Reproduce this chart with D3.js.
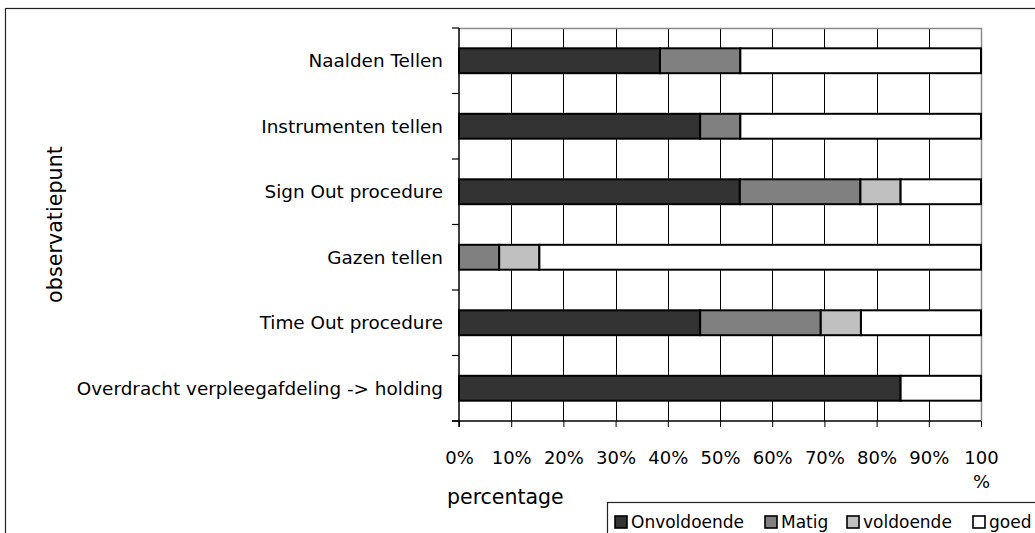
<!DOCTYPE html>
<html>
<head>
<meta charset="utf-8">
<script src="https://cdn.jsdelivr.net/npm/d3@7"></script>
<style>
  body { margin: 0; background: #fff; }
  svg { display: block; font-family: "DejaVu Sans", Verdana, sans-serif; }
</style>
</head>
<body>
<div id="chart"></div>
<script>
// categories, top to bottom as in the chart
var categories = [
    "Naalden Tellen",
    "Instrumenten tellen",
    "Sign Out procedure",
    "Gazen tellen",
    "Time Out procedure",
    "Overdracht verpleegafdeling -> holding"
];
var seriesNames = ["Onvoldoende", "Matig", "voldoende", "goed"];
// percentages per category
var onvoldoende = [38.5, 46.2, 53.8, 0, 46.2, 84.6];
var matig       = [15.4, 7.7, 23.1, 7.7, 23.1, 0];
var voldoende   = [0, 0, 7.7, 7.7, 7.7, 0];
var goed        = [46.2, 46.2, 15.4, 84.6, 23.1, 15.4];
var xTicks = [0, 10, 20, 30, 40, 50, 60, 70, 80, 90, 100];
var colors = ["#333333", "#808080", "#c0c0c0", "#ffffff"];

function init() {
    var w = 1035;
    var h = 533;
    var margin = {top: 28, right: 54, bottom: 112, left: 459};

    var svg = d3.select("#chart")
        .append("svg")
        .attr("width", w)
        .attr("height", h);

    // outer chart border
    svg.append("rect")
        .attr("x", 5.5).attr("y", 8.5)
        .attr("width", w + 20).attr("height", h + 20)
        .attr("fill", "white")
        .attr("stroke", "#222").attr("stroke-width", 1.2);

    var rows = categories.map(function(c, i) {
        return {cat: c, Onvoldoende: onvoldoende[i], Matig: matig[i], voldoende: voldoende[i], goed: goed[i]};
    });
    var stacked = d3.stack().keys(seriesNames)(rows);

    var xScale = d3.scaleLinear()
        .domain([0, 100])
        .range([margin.left, w - margin.right])
        .clamp(true);

    var yScale = d3.scaleBand()
        .domain(categories)
        .range([margin.top, h - margin.bottom])
        .paddingInner(0.62)
        .paddingOuter(0.31);

    var x0 = xScale(0), x1 = xScale(100);
    var yTop = margin.top, yBot = h - margin.bottom;

    // vertical gridlines
    svg.append("g")
        .selectAll("line")
        .data(xTicks.slice(1, -1))
        .enter()
        .append("line")
        .attr("x1", d => Math.round(xScale(d)) + 0.5)
        .attr("x2", d => Math.round(xScale(d)) + 0.5)
        .attr("y1", yTop).attr("y2", yBot)
        .attr("stroke", "#000").attr("stroke-width", 1);

    // plot area border (top and right, grey)
    svg.append("path")
        .attr("d", "M" + x0 + "," + (yTop + 0.5) + "H" + (Math.round(x1) + 0.5) + "V" + yBot)
        .attr("fill", "none")
        .attr("stroke", "#8a8a8a").attr("stroke-width", 1.5);

    // bars
    svg.append("g")
        .selectAll("g")
        .data(stacked)
        .enter()
        .append("g")
        .attr("fill", (d, i) => colors[i])
        .selectAll("rect")
        .data(d => d.filter(p => p[1] - p[0] > 0))
        .enter()
        .append("rect")
        .attr("x", d => xScale(d[0]))
        .attr("y", d => yScale(d.data.cat))
        .attr("width", d => xScale(d[1]) - xScale(d[0]))
        .attr("height", yScale.bandwidth())
        .attr("stroke", "#000")
        .attr("stroke-width", 2);

    // x axis
    var xAxis = d3.axisBottom(xScale)
        .tickValues(xTicks)
        .tickSize(6)
        .tickPadding(24)
        .tickFormat(d => d + "%");

    var gx = svg.append("g")
        .attr("transform", "translate(0," + yBot + ")")
        .call(xAxis);
    gx.select(".domain").attr("stroke", "#000").attr("stroke-width", 1.5)
        .attr("d", "M" + (x0 - 7) + ",0H" + x1);
    gx.selectAll(".tick line").attr("stroke", "#000");
    gx.selectAll(".tick text")
        .attr("fill", "#000")
        .attr("font-size", "18px")
        .attr("font-family", "DejaVu Sans, Verdana, sans-serif")
        .each(function(d) {
            if (d === 100) {
                var t = d3.select(this).text(null);
                t.append("tspan").attr("x", 0).text("100");
                t.append("tspan").attr("x", 0).attr("dy", "1.35em").text("%");
            }
        });

    // y axis with ticks on category boundaries
    var gy = svg.append("g");
    gy.append("line")
        .attr("x1", x0).attr("x2", x0)
        .attr("y1", yTop).attr("y2", yBot + 6)
        .attr("stroke", "#000").attr("stroke-width", 1.5);
    var step = yScale.step();
    gy.selectAll(".ytick")
        .data(d3.range(categories.length + 1))
        .enter()
        .append("line")
        .attr("x1", x0 - 7).attr("x2", x0)
        .attr("y1", i => yTop + i * step)
        .attr("y2", i => yTop + i * step)
        .attr("stroke", "#000").attr("stroke-width", 1.2);
    gy.selectAll(".ylabel")
        .data(categories)
        .enter()
        .append("text")
        .attr("x", x0 - 16)
        .attr("y", d => yScale(d) + yScale.bandwidth() / 2)
        .attr("dy", "0.35em")
        .attr("text-anchor", "end")
        .attr("font-size", "18.4px")
        .attr("fill", "#000")
        .text(d => d);

    // axis titles
    svg.append("text")
        .attr("x", 447)
        .attr("y", 504)
        .attr("font-size", "20.5px")
        .attr("fill", "#000")
        .text("percentage");

    svg.append("text")
        .attr("transform", "translate(62," + ((yTop + yBot) / 2) + ") rotate(-90)")
        .attr("text-anchor", "middle")
        .attr("font-size", "20.7px")
        .attr("fill", "#000")
        .text("observatiepunt");

    // legend
    var lg = svg.append("g");
    lg.append("rect")
        .attr("x", 607.5).attr("y", 502.5)
        .attr("width", 500).attr("height", 60)
        .attr("fill", "white")
        .attr("stroke", "#222").attr("stroke-width", 1.2);
    var legendX = [615, 765, 847, 973];
    var items = lg.selectAll(".item")
        .data(seriesNames)
        .enter()
        .append("g")
        .attr("transform", (d, i) => "translate(" + legendX[i] + ",516)");
    items.append("rect")
        .attr("width", 12).attr("height", 12)
        .attr("fill", (d, i) => colors[i])
        .attr("stroke", "#000").attr("stroke-width", 1.6);
    items.append("text")
        .attr("x", 16)
        .attr("y", 6)
        .attr("dy", "0.36em")
        .attr("font-size", "17px")
        .attr("fill", "#000")
        .text(d => d);
}

window.onload = init;
</script>
</body>
</html>
